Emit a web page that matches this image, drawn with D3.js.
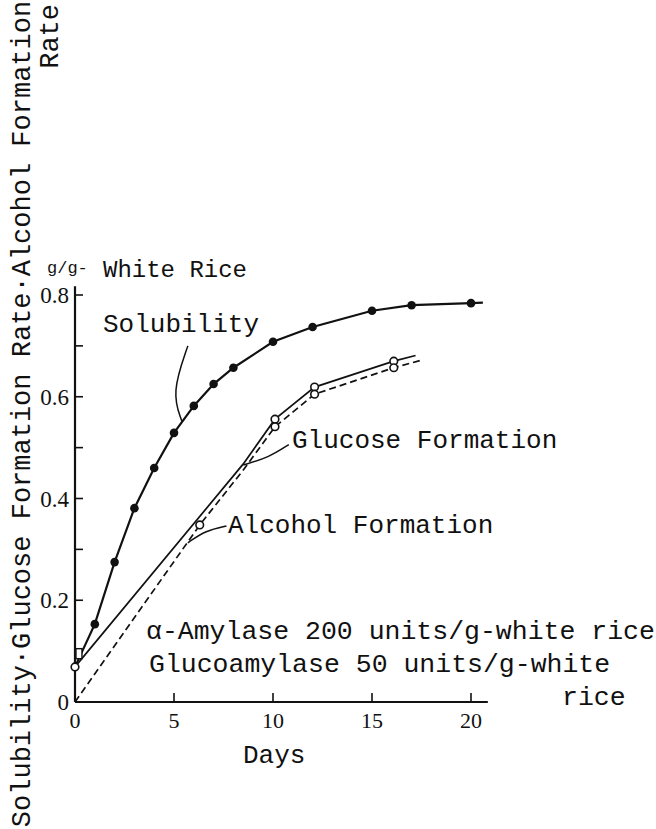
<!DOCTYPE html>
<html>
<head>
<meta charset="utf-8">
<script src="https://d3js.org/d3.v7.min.js"></script>
<style>
  body { margin: 0; background: #fff; }
  svg { display: block; }
  .mono { font-family: "Liberation Mono", "DejaVu Sans Mono", monospace; fill: #111; }
  .num { font-family: "Liberation Serif", "DejaVu Serif", serif; fill: #111; }
</style>
</head>
<body>
<svg class="chart"></svg>
<script>
// Set dimensions
var width = 656,
    height = 829;

// Data (days, g/g white rice)
var solubilityDays   = [0, 1, 2, 3, 4, 5, 6, 7, 8, 10, 12, 15, 17, 20, 20.6];
var solubilityValues = [0.069, 0.153, 0.275, 0.381, 0.46, 0.529, 0.582, 0.625, 0.657, 0.708, 0.737, 0.769, 0.78, 0.784, 0.785];

var glucoseDays   = [0, 8.5, 10.1, 12.1, 16.1, 17.2];
var glucoseValues = [0.069, 0.468, 0.556, 0.619, 0.67, 0.681];

var alcoholDays   = [0, 6.3, 8.5, 10.1, 12.1, 16.1, 17.5];
var alcoholValues = [0, 0.348, 0.456, 0.541, 0.605, 0.657, 0.672];

// which points carry a marker (the last vertex is only where the pen stopped)
var solubilityMarked = [false, true, true, true, true, true, true, true, true, true, true, true, true, true, false];
var glucoseMarked    = [false, false, true, true, true, false];
var alcoholMarked    = [false, true, false, true, true, true, false];

var startPoint = [0, 0.069];
var startBox = [0.2, 0.095];

var xTicks = [0, 5, 10, 15, 20];
var yTicks = [0, 0.1, 0.2, 0.3, 0.4, 0.5, 0.6, 0.7, 0.8];
var yTickLabels = ["0", "", "0.2", "", "0.4", "", "0.6", "", "0.8"];

// Scales
var x = d3.scaleLinear().domain([0, 20]).range([75, 471]);
var y = d3.scaleLinear().domain([0, 0.8]).range([702, 295]);

var svg = d3.select("svg.chart")
    .attr("width", width)
    .attr("height", height);

function zipped(days, values) {
    return days.map(function(d, i) { return [d, values[i]]; });
}

var line = d3.line()
    .x(function(d) { return x(d[0]); })
    .y(function(d) { return y(d[1]); });

// Axes
svg.append("line")
    .attr("x1", x(0)).attr("x2", x(0))
    .attr("y1", y(0)).attr("y2", y(0.817))
    .attr("stroke", "#111").attr("stroke-width", 2.2);

svg.append("line")
    .attr("x1", x(0)).attr("x2", x(20.85))
    .attr("y1", y(0)).attr("y2", y(0))
    .attr("stroke", "#111").attr("stroke-width", 1.8);

svg.selectAll(".ytick")
    .data(yTicks)
    .enter().append("line")
    .attr("class", "ytick")
    .attr("x1", x(0)).attr("x2", x(0) + 8)
    .attr("y1", function(d) { return y(d); })
    .attr("y2", function(d) { return y(d); })
    .attr("stroke", "#111").attr("stroke-width", 1.6);

svg.selectAll(".ylab")
    .data(yTicks)
    .enter().append("text")
    .attr("class", "num ylab")
    .attr("x", 69)
    .attr("y", function(d) { return y(d); })
    .attr("dy", "0.35em")
    .attr("text-anchor", "end")
    .style("font-size", "23px")
    .text(function(d, i) { return yTickLabels[i]; });

svg.selectAll(".xtick")
    .data(xTicks.slice(1))
    .enter().append("line")
    .attr("class", "xtick")
    .attr("x1", function(d) { return x(d); })
    .attr("x2", function(d) { return x(d); })
    .attr("y1", y(0)).attr("y2", y(0) - 9)
    .attr("stroke", "#111").attr("stroke-width", 1.6);

svg.selectAll(".xlab")
    .data(xTicks)
    .enter().append("text")
    .attr("class", "num xlab")
    .attr("x", function(d) { return x(d); })
    .attr("y", 728)
    .attr("text-anchor", "middle")
    .style("font-size", "22px")
    .text(function(d) { return d; });

// Lines
svg.append("path")
    .datum(zipped(solubilityDays, solubilityValues))
    .attr("d", line)
    .attr("fill", "none").attr("stroke", "#111").attr("stroke-width", 2.2);

svg.append("path")
    .datum(zipped(glucoseDays, glucoseValues))
    .attr("d", line)
    .attr("fill", "none").attr("stroke", "#111").attr("stroke-width", 1.7);

svg.append("path")
    .datum(zipped(alcoholDays, alcoholValues))
    .attr("d", line)
    .attr("fill", "none").attr("stroke", "#111").attr("stroke-width", 1.7)
    .attr("stroke-dasharray", "7,4");

// Markers
svg.selectAll(".sol")
    .data(zipped(solubilityDays, solubilityValues).filter(function(d, i) { return solubilityMarked[i]; }))
    .enter().append("circle")
    .attr("class", "sol")
    .attr("cx", function(d) { return x(d[0]); })
    .attr("cy", function(d) { return y(d[1]); })
    .attr("r", 4.3)
    .attr("fill", "#111");

svg.selectAll(".glu")
    .data(zipped(glucoseDays, glucoseValues).filter(function(d, i) { return glucoseMarked[i]; }))
    .enter().append("circle")
    .attr("class", "glu")
    .attr("cx", function(d) { return x(d[0]); })
    .attr("cy", function(d) { return y(d[1]); })
    .attr("r", 3.8)
    .attr("fill", "#fff").attr("stroke", "#111").attr("stroke-width", 1.6);

svg.selectAll(".alc")
    .data(zipped(alcoholDays, alcoholValues).filter(function(d, i) { return alcoholMarked[i]; }))
    .enter().append("circle")
    .attr("class", "alc")
    .attr("cx", function(d) { return x(d[0]); })
    .attr("cy", function(d) { return y(d[1]); })
    .attr("r", 3.8)
    .attr("fill", "#fff").attr("stroke", "#111").attr("stroke-width", 1.6);

svg.append("rect")
    .attr("x", x(startBox[0]) - 3).attr("y", y(startBox[1]) - 5)
    .attr("width", 6).attr("height", 10)
    .attr("fill", "#fff").attr("stroke", "#111").attr("stroke-width", 1.4);

svg.append("circle")
    .attr("cx", x(startPoint[0])).attr("cy", y(startPoint[1]))
    .attr("r", 3.8)
    .attr("fill", "#fff").attr("stroke", "#111").attr("stroke-width", 1.6);

// Pointer curves from labels to lines
var pointers = [
    [[5.7, 0.70], [4.8, 0.605], [5.4, 0.552]],
    [[10.8, 0.506], [9.8, 0.48], [8.5, 0.466]],
    [[7.65, 0.346], [6.6, 0.338], [5.7, 0.313]]
];
var curve = d3.line()
    .x(function(d) { return x(d[0]); })
    .y(function(d) { return y(d[1]); })
    .curve(d3.curveBundle.beta(0.9));

svg.selectAll(".pointer")
    .data(pointers)
    .enter().append("path")
    .attr("class", "pointer")
    .attr("d", curve)
    .attr("fill", "none").attr("stroke", "#111").attr("stroke-width", 1.5);

// Labels
function label(txt, px, py, size) {
    svg.append("text")
        .attr("class", "mono")
        .attr("x", px).attr("y", py)
        .style("font-size", size + "px")
        .text(txt);
}

label("g/g-", 47, 273, 17);
label("White Rice", 103, 277, 24);
label("Solubility", 103, 332, 26);
label("Glucose Formation", 292, 448, 26);
label("Alcohol Formation", 228, 533, 26);
label("\u03b1-Amylase 200 units/g-white rice", 146, 639, 26.5);
label("Glucoamylase 50 units/g-white", 149, 672, 26.5);
label("rice", 562, 705, 26.5);
label("Days", 243, 763, 26);

// Y axis title, two lines, reading upwards
svg.append("text")
    .attr("class", "mono")
    .attr("transform", "translate(30,414)rotate(-90)")
    .attr("text-anchor", "middle")
    .style("font-size", "27px")
    .text("Solubility\u00b7Glucose Formation Rate\u00b7Alcohol Formation");

svg.append("text")
    .attr("class", "mono")
    .attr("transform", "translate(58,4)rotate(-90)")
    .attr("text-anchor", "end")
    .style("font-size", "27px")
    .text("Rate");
</script>
</body>
</html>
